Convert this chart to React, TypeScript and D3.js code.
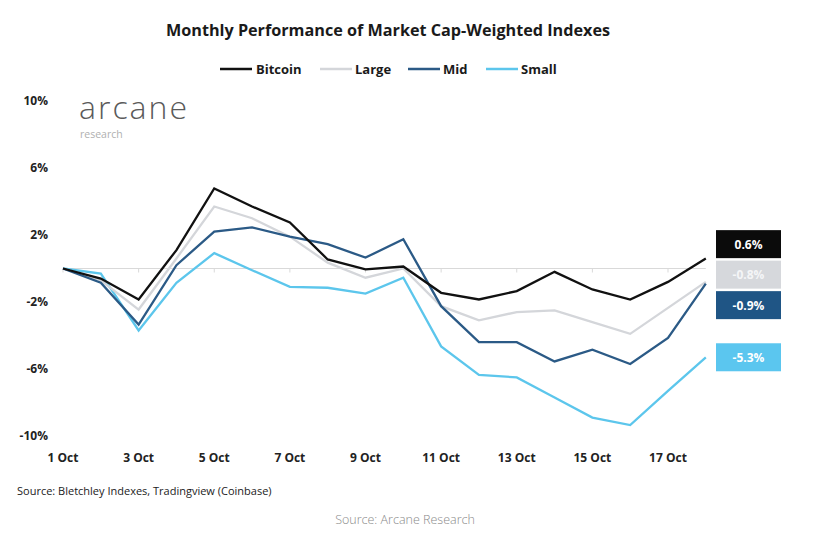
import React from "react";
import * as d3 from "d3";

const days = d3.range(1, 19);
const seriesNames = ["Bitcoin", "Large", "Mid", "Small"];
const bitcoin = [0, -0.6, -1.85, 1.1, 4.78, 3.7, 2.75, 0.54, -0.05, 0.12, -1.45, -1.85, -1.35, -0.2, -1.25, -1.85, -0.8, 0.6];
const large = [0, -0.7, -2.45, 0.6, 3.7, 3.0, 1.9, 0.35, -0.55, 0.0, -2.25, -3.1, -2.6, -2.5, -3.2, -3.9, -2.35, -0.8];
const mid = [0, -0.85, -3.35, 0.2, 2.2, 2.45, 1.9, 1.45, 0.65, 1.75, -2.25, -4.4, -4.4, -5.55, -4.85, -5.7, -4.15, -0.9];
const small = [0, -0.3, -3.7, -0.85, 0.92, -0.1, -1.1, -1.15, -1.5, -0.55, -4.65, -6.35, -6.5, -7.7, -8.9, -9.35, -7.3, -5.3];
const yTicks = [10, 6, 2, -2, -6, -10];
const xTickDays = [1, 3, 5, 7, 9, 11, 13, 15, 17];
const lineColors = ["#111111", "#d4d6da", "#2b5a86", "#5cc6ec"];
const boxColors = ["#0b0b0b", "#d6d8dc", "#1f5585", "#5bc6ef"];
const boxTextColors = ["#ffffff", "#f4f5f7", "#ffffff", "#ffffff"];

const W = 822;
const H = 539;
const FONT = "'Open Sans', 'DejaVu Sans', sans-serif";

export default function App() {
  const data = [bitcoin, large, mid, small];
  const x = d3.scaleLinear().domain([1, 17]).range([63, 668]);
  const y = d3.scaleLinear().domain([-10, 10]).range([436, 101]);
  const line = d3
    .line<number>()
    .x((_, i) => x(days[i]))
    .y((v) => y(v));

  // label positions with simple collision avoidance
  const minGap = 30.5;
  const items = data.map((s, i) => ({ i, target: y(s[s.length - 1]), pos: y(s[s.length - 1]) }));
  const sorted = [...items].sort((a, b) => a.target - b.target);
  const groups: { members: typeof sorted; center: number }[] = sorted.map((it) => ({ members: [it], center: it.target }));
  let changed = true;
  while (changed) {
    changed = false;
    for (let g = 0; g < groups.length - 1; g++) {
      const a = groups[g];
      const b = groups[g + 1];
      const aBottom = a.center + ((a.members.length - 1) * minGap) / 2;
      const bTop = b.center - ((b.members.length - 1) * minGap) / 2;
      if (bTop - aBottom < minGap) {
        const members = [...a.members, ...b.members];
        const center = d3.mean(members, (m) => m.target) as number;
        groups.splice(g, 2, { members, center });
        changed = true;
        break;
      }
    }
  }
  groups.forEach((g) => {
    const start = g.center - ((g.members.length - 1) * minGap) / 2;
    g.members.forEach((m, k) => (m.pos = start + k * minGap));
  });

  const legendItems = [
    { name: "Bitcoin", lx: 220, tx: 256 },
    { name: "Large", lx: 320, tx: 355 },
    { name: "Mid", lx: 408, tx: 443 },
    { name: "Small", lx: 486, tx: 521 },
  ];

  return (
    <svg width={W} height={H} style={{ position: "absolute", left: 0, top: 0, background: "#fff" }} fontFamily={FONT}>
      <rect width={W} height={H} fill="#fff" />
      <text x={388} y={36} textAnchor="middle" fontSize={16.2} fontWeight={700} fill="#1a1a1a">
        Monthly Performance of Market Cap-Weighted Indexes
      </text>
      {legendItems.map((l, i) => (
        <g key={l.name}>
          <line x1={l.lx} x2={l.lx + 32} y1={69} y2={69} stroke={lineColors[i]} strokeWidth={2.5} />
          <text x={l.tx} y={73.5} fontSize={13} fontWeight={700} fill="#1a1a1a">
            {seriesNames[i]}
          </text>
        </g>
      ))}

      {/* logo */}
      <text x={79} y={119} fontSize={32} fill="#5a5a5a" fontWeight={300} fontFamily="'Open Sans', sans-serif" letterSpacing={2}>
        arcane
      </text>
      <text x={80} y={138} fontSize={10.5} fill="#b0b0b0" fontFamily="'Open Sans', sans-serif">
        research
      </text>

      {/* y labels */}
      {yTicks.map((t) => (
        <text key={t} x={48} y={y(t) + 4} textAnchor="end" fontSize={12} fontWeight={700} fill="#222">
          {`${t}%`}
        </text>
      ))}

      {/* zero line */}
      <line x1={x(1)} x2={x(18)} y1={y(0)} y2={y(0)} stroke="#d9d9d9" strokeWidth={1} />
      {xTickDays.map((d) => (
        <line key={d} x1={x(d)} x2={x(d)} y1={y(0)} y2={y(0) + 4} stroke="#d9d9d9" strokeWidth={1} />
      ))}

      {/* x labels */}
      {xTickDays.map((d) => (
        <text key={d} x={x(d)} y={462} textAnchor="middle" fontSize={12} fontWeight={700} fill="#222">
          {`${d} Oct`}
        </text>
      ))}

      {[3, 1, 2, 0].map((i) => (
        <path key={i} d={line(data[i]) || ""} fill="none" stroke={lineColors[i]} strokeWidth={2.3} strokeLinejoin="miter" />
      ))}

      {/* end labels */}
      {items.map((it) => {
        const v = data[it.i][data[it.i].length - 1];
        return (
          <g key={it.i}>
            <rect x={716} y={it.pos - 14} width={65} height={28} fill={boxColors[it.i]} />
            <text x={748.5} y={it.pos + 4.5} textAnchor="middle" fontSize={12} fontWeight={700} fill={boxTextColors[it.i]}>
              {`${v.toFixed(1)}%`}
            </text>
          </g>
        );
      })}

      <text x={17} y={495} fontSize={11} fill="#222">
        Source: Bletchley Indexes, Tradingview (Coinbase)
      </text>
      <text x={405} y={524} textAnchor="middle" fontSize={12.5} fill="#8a8a8a" fontWeight={300}>
        Source: Arcane Research
      </text>
    </svg>
  );
}
